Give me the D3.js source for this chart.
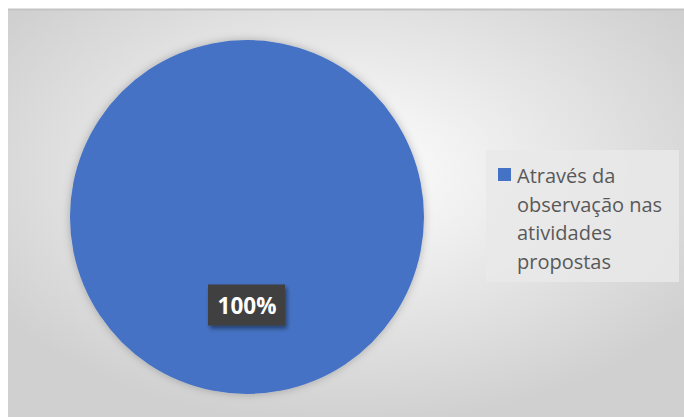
<!DOCTYPE html>
<html>
<head>
<meta charset="utf-8">
<script src="https://cdn.jsdelivr.net/npm/d3@7"></script>
<style>
  body { margin: 0; background: #fff; }
  svg { display: block; }
</style>
</head>
<body>
<script>
var w = 684;
var h = 417;

// data
var categories = ["Através da observação nas atividades propostas"];
var values = [100];
var colors = ["#4472c4"];

var svg = d3.select("body")
    .append("svg")
    .attr("width", w)
    .attr("height", h);

var defs = svg.append("defs");

var bg = defs.append("radialGradient")
    .attr("id", "bg")
    .attr("cx", "50%").attr("cy", "40%").attr("r", "62%");
bg.append("stop").attr("offset", "0%").attr("stop-color", "#ffffff");
bg.append("stop").attr("offset", "100%").attr("stop-color", "#d0d0d0");

var shadow = defs.append("filter")
    .attr("id", "shadow")
    .attr("x", "-20%").attr("y", "-20%").attr("width", "140%").attr("height", "140%");
shadow.append("feDropShadow")
    .attr("dx", 0).attr("dy", 0).attr("stdDeviation", 4)
    .attr("flood-color", "#000").attr("flood-opacity", 0.25);

var lblShadow = defs.append("filter")
    .attr("id", "lblShadow")
    .attr("x", "-20%").attr("y", "-20%").attr("width", "150%").attr("height", "160%");
lblShadow.append("feDropShadow")
    .attr("dx", 2).attr("dy", 3).attr("stdDeviation", 2)
    .attr("flood-color", "#000").attr("flood-opacity", 0.45);

// chart area
svg.append("rect")
    .attr("x", 8).attr("y", 9)
    .attr("width", w - 8).attr("height", h - 9)
    .attr("fill", "url(#bg)");
svg.append("line")
    .attr("x1", 8).attr("x2", w)
    .attr("y1", 9.5).attr("y2", 9.5)
    .attr("stroke", "#c3c3c3").attr("stroke-width", 2);

// pie
var cx = 247, cy = 217, radius = 177;

var pie = d3.pie().sort(null);
var arc = d3.arc().innerRadius(0).outerRadius(radius);
var arcs = pie(values);
var total = d3.sum(values);

var g = svg.append("g")
    .attr("transform", "translate(" + cx + "," + cy + ")");

g.selectAll("path")
    .data(arcs)
    .enter()
    .append("path")
    .attr("d", arc)
    .attr("fill", function(d, i) { return colors[i]; })
    .attr("filter", "url(#shadow)");

// data labels
var labels = g.selectAll("g.lbl")
    .data(arcs)
    .enter()
    .append("g")
    .attr("class", "lbl")
    .attr("transform", function(d) {
        var c = arc.centroid(d);
        return "translate(" + c[0] + "," + c[1] + ")";
    });

labels.append("rect")
    .attr("x", -39).attr("y", -21)
    .attr("width", 77).attr("height", 41)
    .attr("fill", "#3f3f3f")
    .attr("filter", "url(#lblShadow)");

labels.append("text")
    .attr("text-anchor", "middle")
    .attr("y", 8)
    .attr("fill", "#fff")
    .style("font-family", "'Open Sans', sans-serif")
    .style("font-weight", "bold")
    .style("font-size", "22.5px")
    .text(function(d) { return Math.round(d.data / total * 100) + "%"; });

// legend
var legend = svg.append("g");
legend.append("rect")
    .attr("x", 486).attr("y", 150)
    .attr("width", 193).attr("height", 132)
    .attr("fill", "#e9e9e9")
    .attr("fill-opacity", 0.85);

legend.append("rect")
    .attr("x", 498).attr("y", 168)
    .attr("width", 13).attr("height", 13)
    .attr("fill", colors[0]);

var legText = legend.append("text")
    .attr("x", 517).attr("y", 183)
    .attr("fill", "#595959")
    .style("font-family", "'Open Sans', sans-serif")
    .style("font-size", "20px");

// wrap the legend label into lines that fit the box
var words = categories[0].split(" ");
var maxW = 158;
var line = [];
var tspan = legText.append("tspan").attr("x", 517).attr("dy", 0);
words.forEach(function(word) {
    line.push(word);
    tspan.text(line.join(" "));
    if (tspan.node().getComputedTextLength() > maxW && line.length > 1) {
        line.pop();
        tspan.text(line.join(" "));
        line = [word];
        tspan = legText.append("tspan").attr("x", 517).attr("dy", 28.5).text(word);
    }
});
</script>
</body>
</html>
